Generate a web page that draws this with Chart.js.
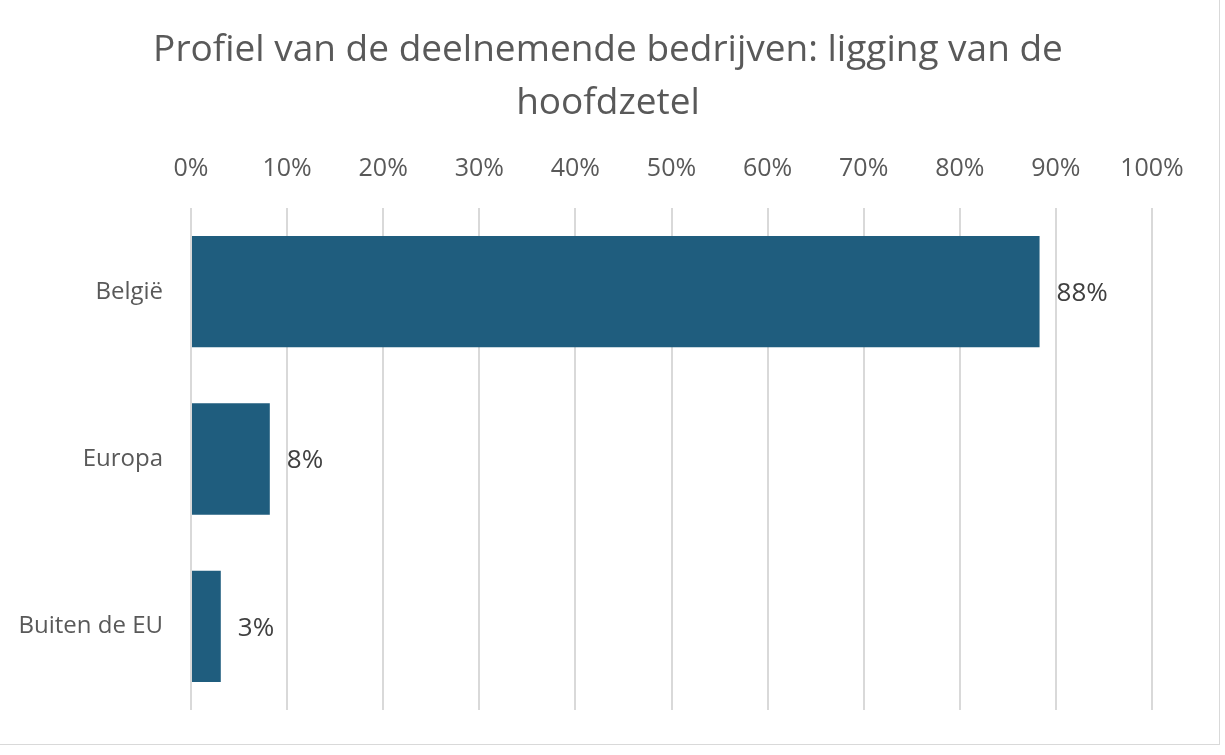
<!DOCTYPE html>
<html>
<head>
<meta charset="utf-8">
<script src="https://cdn.jsdelivr.net/npm/chart.js@4/dist/chart.umd.min.js"></script>
<style>
  html, body { margin: 0; padding: 0; background: #fff; }
  #wrap { position: relative; width: 1219px; height: 744px; border: 1px solid #d9d9d9; border-top: none; border-left: none; }
</style>
</head>
<body>
<div id="wrap"><canvas id="myChart"></canvas></div>
<script>
var titleLines = ["Profiel van de deelnemende bedrijven: ligging van de", "hoofdzetel"];
var categories = ["België", "Europa", "Buiten de EU"];
var shares = [88.3, 8.2, 3.1];
var shareLabels = ["88%", "8%", "3%"];

// title drawn by hand so it can sit centred on the whole picture, not the chart box
var pageTitle = {
  id: "pageTitle",
  afterDraw: function (chart) {
    var c = chart.ctx;
    c.save();
    c.font = "37px 'Open Sans'";
    c.fillStyle = "#595959";
    c.textAlign = "center";
    c.textBaseline = "middle";
    titleLines.forEach(function (line, i) {
      c.fillText(line, 608, 50 + i * 53);
    });
    c.restore();
  },
};

// labels at the end of each bar
var endLabels = {
  id: "endLabels",
  afterDatasetsDraw: function (chart) {
    var c = chart.ctx;
    var meta = chart.getDatasetMeta(0);
    c.save();
    c.font = "26px 'Open Sans'";
    c.fillStyle = "#404040";
    c.textAlign = "left";
    c.textBaseline = "middle";
    meta.data.forEach(function (bar, i) {
      c.fillText(shareLabels[i], bar.x + 17, bar.y + 2);
    });
    c.restore();
  },
};

var ctx = document.getElementById("myChart").getContext("2d");
var myChart = new Chart(ctx, {
  type: "bar",
  data: {
    labels: categories,
    datasets: [
      {
        data: shares,
        backgroundColor: "#1F5D7E",
        barPercentage: 0.665,
        categoryPercentage: 1,
      },
    ],
  },
  options: {
    indexAxis: "y",
    responsive: true,
    maintainAspectRatio: false,
    animation: false,
    layout: { padding: { left: 10, right: 67, top: 133, bottom: 34 } },
    plugins: {
      legend: { display: false },
      tooltip: { enabled: false },
      title: { display: false },
    },
    scales: {
      x: {
        position: "top",
        min: 0,
        max: 100,
        afterFit: function (scale) { scale.height = 75; },
        ticks: {
          stepSize: 10,
          color: "#595959",
          padding: 24,
          font: { family: "'Open Sans'", size: 25 },
          callback: function (v) { return v + "%"; },
        },
        grid: { color: "#d9d9d9", lineWidth: 2, drawTicks: false },
        border: { display: false },
      },
      y: {
        afterFit: function (scale) {
          scale.width = 181;
          scale.paddingTop = 0;
          scale.paddingBottom = 0;
        },
        ticks: {
          color: "#595959",
          padding: 28,
          font: { family: "'Open Sans'", size: 24 },
        },
        grid: { display: false, drawTicks: false },
        border: { display: false },
      },
    },
  },
  plugins: [endLabels, pageTitle],
});
</script>
</body>
</html>
